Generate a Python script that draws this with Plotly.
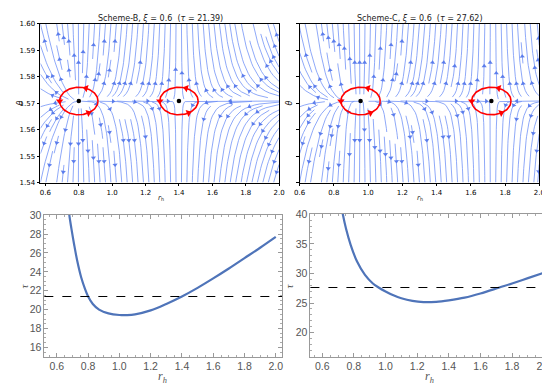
import math
import numpy as np
import plotly.graph_objects as go

W, H = 550, 385

# ---------------- data ----------------
xi_val = 0.6
tau0_B = 21.39
tau0_C = 27.62
rh_zero_B = [0.80, 1.40]
rh_zero_C = [0.956, 1.72]

rh_B = [0.56, 0.60, 0.63, 0.65, 0.665, 0.679, 0.693, 0.71, 0.73, 0.756, 0.78, 0.80,
        0.83, 0.87, 0.93, 1.00, 1.05, 1.10, 1.20, 1.30, 1.40, 1.50, 1.60, 1.70, 1.80, 1.90, 2.00]
tau_B = [58.0, 45.0, 38.0, 34.5, 32.3, 30.1, 28.6, 26.95, 25.2, 23.4, 22.2, 21.39,
         20.6, 20.0, 19.6, 19.43, 19.42, 19.5, 19.92, 20.6, 21.39, 22.3, 23.3, 24.35, 25.45, 26.55, 27.7]

rh_C = [0.60, 0.63, 0.67, 0.70, 0.72, 0.73, 0.75, 0.78, 0.82, 0.87, 0.92, 0.956, 1.00,
        1.05, 1.10, 1.17, 1.24, 1.32, 1.40, 1.50, 1.60, 1.72, 1.80, 1.90, 2.00]
tau_C = [68.0, 60.0, 51.0, 45.0, 41.5, 40.0, 37.6, 34.8, 32.0, 29.75, 28.3, 27.62, 26.95,
         26.3, 25.8, 25.35, 25.15, 25.2, 25.45, 25.9, 26.6, 27.62, 28.3, 29.2, 30.1]

x_ticks_top = [0.6, 0.8, 1.0, 1.2, 1.4, 1.6, 1.8, 2.0]
y_ticks_top = [1.54, 1.55, 1.56, 1.57, 1.58, 1.59, 1.60]

# ---------------- layout geometry (pixels) ----------------
panels = {
    "TL": dict(px=(27, 271), py=(10, 173), xr=(0.57, 2.0), yr=(1.54, 1.60)),
    "TR": dict(px=(292, 537), py=(10, 173), xr=(0.60, 2.0), yr=(1.54, 1.60)),
    "BL": dict(px=(31, 274), py=(206, 352), xr=(0.52, 2.04), yr=(15.0, 30.05)),
    "BR": dict(px=(303, 548), py=(205, 352), xr=(0.525, 2.04), yr=(15.9, 40.1)),
}


def dom(p):
    return [p["px"][0] / W, p["px"][1] / W], [1 - p["py"][1] / H, 1 - p["py"][0] / H]


def scales(p):
    sx = (p["px"][1] - p["px"][0]) / (p["xr"][1] - p["xr"][0])
    sy = (p["py"][1] - p["py"][0]) / (p["yr"][1] - p["yr"][0])
    return sx, sy


# ---------------- streamline integrator (matplotlib-style) ----------------
class _OOB(Exception):
    pass


class _Term(Exception):
    pass


class _Stop(Exception):
    pass


def streamlines(x, y, u, v, density=1.0, minlength=0.1, maxlength=4.0):
    ny_g, nx_g = u.shape
    width = x[-1] - x[0]
    height = y[-1] - y[0]
    dxg = width / (nx_g - 1)
    dyg = height / (ny_g - 1)
    mn = int(30 * density)
    mask = [[0] * mn for _ in range(mn)]
    xg2m = (mn - 1) / (nx_g - 1)
    yg2m = (mn - 1) / (ny_g - 1)
    ug_a = u / dxg
    vg_a = v / dyg
    sp_a = np.sqrt((ug_a / (nx_g - 1)) ** 2 + (vg_a / (ny_g - 1)) ** 2)
    UG, VG, SP = ug_a.tolist(), vg_a.tolist(), sp_a.tolist()
    XM, YM = nx_g - 1, ny_g - 1

    def interp(a, xi, yi):
        ix = int(xi)
        iy = int(yi)
        xn = ix if ix == XM else ix + 1
        yn = iy if iy == YM else iy + 1
        xt = xi - ix
        yt = yi - iy
        r0 = a[iy]
        r1 = a[yn]
        a0 = r0[ix] * (1 - xt) + r0[xn] * xt
        a1 = r1[ix] * (1 - xt) + r1[xn] * xt
        return a0 * (1 - yt) + a1 * yt

    def within(xi, yi):
        return 0 <= xi <= XM and 0 <= yi <= YM

    def f(xi, yi, sgn):
        if not within(xi, yi):
            raise _OOB
        s = interp(SP, xi, yi)
        if s == 0:
            raise _Term
        dt = 1.0 / s
        return sgn * interp(UG, xi, yi) * dt, sgn * interp(VG, xi, yi) * dt

    state = {"cur": None, "cells": []}

    def update(xg, yg):
        if not within(xg, yg):
            raise _Stop
        xm = int(xg * xg2m + 0.5)
        ym = int(yg * yg2m + 0.5)
        if state["cur"] != (xm, ym):
            if mask[ym][xm] == 0:
                state["cells"].append((ym, xm))
                mask[ym][xm] = 1
                state["cur"] = (xm, ym)
            else:
                raise _Stop

    def euler(traj, sgn):
        xi, yi = traj[-1]
        cx, cy = f(xi, yi, sgn)
        if cx == 0:
            dsx = math.inf
        elif cx < 0:
            dsx = xi / -cx
        else:
            dsx = (XM - xi) / cx
        if cy == 0:
            dsy = math.inf
        elif cy < 0:
            dsy = yi / -cy
        else:
            dsy = (YM - yi) / cy
        ds = min(dsx, dsy)
        traj.append((xi + cx * ds, yi + cy * ds))
        return ds

    def rk12(x0, y0, sgn):
        maxerror = 0.003
        maxds = min(1.0 / mn, 0.1)
        ds = maxds
        stotal = 0.0
        xi, yi = x0, y0
        traj = []
        while True:
            try:
                if within(xi, yi):
                    traj.append((xi, yi))
                else:
                    raise _OOB
                k1x, k1y = f(xi, yi, sgn)
                k2x, k2y = f(xi + ds * k1x, yi + ds * k1y, sgn)
            except _OOB:
                if traj:
                    try:
                        stotal += euler(traj, sgn)
                    except (_OOB, _Term):
                        pass
                break
            except _Term:
                break
            dx1 = ds * k1x
            dy1 = ds * k1y
            dx2 = ds * 0.5 * (k1x + k2x)
            dy2 = ds * 0.5 * (k1y + k2y)
            err = math.hypot((dx2 - dx1) / XM, (dy2 - dy1) / YM)
            if err < maxerror:
                xi += dx2
                yi += dy2
                try:
                    update(xi, yi)
                except _Stop:
                    break
                if stotal + ds > maxlength:
                    break
                stotal += ds
            if err == 0:
                ds = maxds
            else:
                ds = min(maxds, 0.85 * ds * (maxerror / err) ** 0.5)
        return stotal, traj

    def integrate(x0, y0):
        state["cells"] = []
        state["cur"] = None
        try:
            update(x0, y0)
        except _Stop:
            return None
        s1, tb = rk12(x0, y0, -1.0)
        state["cur"] = (int(x0 * xg2m + 0.5), int(y0 * yg2m + 0.5))
        s2, tf = rk12(x0, y0, 1.0)
        traj = tb[::-1] + tf[1:]
        if s1 + s2 > minlength:
            return traj
        for (ym, xm) in state["cells"]:
            mask[ym][xm] = 0
        return None

    def seeds():
        xfirst, yfirst, xlast, ylast = 0, 1, mn - 1, mn - 1
        xx, yy = 0, 0
        direction = "right"
        for _ in range(mn * mn):
            yield xx, yy
            if direction == "right":
                xx += 1
                if xx >= xlast:
                    xlast -= 1
                    direction = "up"
            elif direction == "up":
                yy += 1
                if yy >= ylast:
                    ylast -= 1
                    direction = "left"
            elif direction == "left":
                xx -= 1
                if xx <= xfirst:
                    xfirst += 1
                    direction = "down"
            else:
                yy -= 1
                if yy <= yfirst:
                    yfirst += 1
                    direction = "right"

    out = []
    for xm, ym in seeds():
        if mask[ym][xm] == 0:
            t = integrate(xm / xg2m, ym / yg2m)
            if t is not None and len(t) > 1:
                tx = [x[0] + p[0] * dxg for p in t]
                ty = [y[0] + p[1] * dyg for p in t]
                out.append((np.array(tx), np.array(ty)))
    return out


fig = go.Figure()

LINE_COL = "rgba(105,140,245,0.75)"
ARROW_COL = "rgba(85,120,235,0.95)"


def stream_panel(p, rh, tau, tau0, zeros, xa, ya):
    rg = np.linspace(p["xr"][0], p["xr"][1], 100)
    tg = np.linspace(p["yr"][0], p["yr"][1], 100)
    R, TH = np.meshgrid(rg, tg)
    T = np.interp(R, rh, tau)
    u = 2 * np.pi * R * (1.0 / T - 1.0 / tau0) / np.sin(TH)
    v = -np.cos(TH) / np.sin(TH) ** 2
    lines = streamlines(rg, tg, u, v, density=1.5)
    sx, sy = scales(p)
    lx, ly, ax, ay, ang = [], [], [], [], []
    for tx, ty in lines:
        lx.extend(tx.tolist() + [None])
        ly.extend(ty.tolist() + [None])
        s = np.cumsum(np.hypot(np.diff(tx), np.diff(ty)))
        n = int(np.searchsorted(s, s[-1] / 2.0))
        n = min(n, len(tx) - 2)
        dx = (tx[n + 1] - tx[n]) * sx
        dy = (ty[n + 1] - ty[n]) * sy
        if dx == 0 and dy == 0:
            continue
        ax.append(tx[n])
        ay.append(ty[n])
        ang.append(float(np.degrees(np.arctan2(dx, dy))))
    fig.add_trace(go.Scatter(x=lx, y=ly, mode="lines", xaxis=xa, yaxis=ya,
                             line=dict(color=LINE_COL, width=1), hoverinfo="skip",
                             showlegend=False, connectgaps=False))
    fig.add_trace(go.Scatter(x=ax, y=ay, mode="markers", xaxis=xa, yaxis=ya,
                             marker=dict(symbol="triangle-up", size=4.5, angle=ang,
                                         color=ARROW_COL, line=dict(width=0)),
                             hoverinfo="skip", showlegend=False))
    # red loops around the zero points
    a, b_ = 0.115, 0.0052
    t = np.linspace(0, 2 * np.pi, 120)
    for z in zeros:
        fig.add_trace(go.Scatter(x=z + a * np.cos(t), y=np.pi / 2 + b_ * np.sin(t),
                                 mode="lines", xaxis=xa, yaxis=ya,
                                 line=dict(color="#ff0000", width=1.6),
                                 hoverinfo="skip", showlegend=False))
        tt = np.radians([68, 180, 300])
        angs = [float(np.degrees(np.arctan2(-a * np.sin(q) * sx, b_ * np.cos(q) * sy))) for q in tt]
        fig.add_trace(go.Scatter(x=z + a * np.cos(tt), y=np.pi / 2 + b_ * np.sin(tt),
                                 mode="markers", xaxis=xa, yaxis=ya,
                                 marker=dict(symbol="triangle-up", size=6.5, angle=angs,
                                             color="#ff0000", line=dict(width=0)),
                                 hoverinfo="skip", showlegend=False))
    fig.add_trace(go.Scatter(x=zeros, y=[np.pi / 2] * len(zeros), mode="markers",
                             xaxis=xa, yaxis=ya,
                             marker=dict(size=4.5, color="black"),
                             hoverinfo="skip", showlegend=False))


stream_panel(panels["TL"], rh_B, tau_B, tau0_B, rh_zero_B, "x", "y")
stream_panel(panels["TR"], rh_C, tau_C, tau0_C, rh_zero_C, "x2", "y2")

CURVE_COL = "#4f74b9"
fig.add_trace(go.Scatter(x=rh_B, y=tau_B, mode="lines", xaxis="x3", yaxis="y3",
                         line=dict(color=CURVE_COL, width=2.2, shape="spline"),
                         hoverinfo="skip", showlegend=False))
fig.add_trace(go.Scatter(x=rh_C, y=tau_C, mode="lines", xaxis="x4", yaxis="y4",
                         line=dict(color=CURVE_COL, width=2.2, shape="spline"),
                         hoverinfo="skip", showlegend=False))

shapes = []
for xa_, ya_, t0 in [("x3", "y3", tau0_B), ("x4", "y4", tau0_C)]:
    shapes.append(dict(type="line", xref=xa_ + " domain", yref=ya_, x0=0, x1=1, y0=t0, y1=t0,
                       line=dict(color="black", width=1.2, dash="dash")))

top_font = dict(family="DejaVu Sans", size=7, color="black")
bot_font = dict(family="Liberation Sans", size=10.5, color="#555555")


def top_axes(p, showylabels):
    xd, yd = dom(p)
    xa = dict(domain=xd, range=list(p["xr"]), tickvals=x_ticks_top,
              ticktext=[f"{v:.1f}" for v in x_ticks_top], ticks="outside", ticklen=3,
              tickwidth=0.8, tickcolor="black", showline=True, linecolor="black",
              linewidth=0.8, mirror=True, showgrid=False, zeroline=False,
              tickfont=top_font)
    ya = dict(domain=yd, range=list(p["yr"]), tickvals=y_ticks_top,
              ticktext=[f"{v:.2f}" for v in y_ticks_top],
              showticklabels=showylabels,
              ticks="outside", ticklen=3, tickwidth=0.8, tickcolor="black", showline=True,
              linecolor="black", linewidth=0.8, mirror=True, showgrid=False,
              zeroline=False, tickfont=top_font)
    return xa, ya


def bot_axes(p, ydtick, yminor):
    xd, yd = dom(p)
    common = dict(ticks="inside", ticklen=4, tickwidth=0.8, tickcolor="#999999",
                  showline=True, linecolor="#999999", linewidth=0.8, mirror="ticks",
                  showgrid=False, zeroline=False, tickfont=bot_font)
    xa = dict(domain=xd, range=list(p["xr"]), tick0=0.6, dtick=0.2, tickformat=".1f",
              minor=dict(dtick=0.05, ticks="inside", ticklen=2, tickcolor="#aaaaaa"),
              **common)
    ya = dict(domain=yd, range=list(p["yr"]), tick0=0, dtick=ydtick,
              minor=dict(dtick=yminor, ticks="inside", ticklen=2, tickcolor="#aaaaaa"),
              **common)
    return xa, ya


x1, y1 = top_axes(panels["TL"], True)
x2, y2 = top_axes(panels["TR"], False)
x3, y3 = bot_axes(panels["BL"], 2, 0.5)
x4, y4 = bot_axes(panels["BR"], 5, 1)
x2["anchor"] = "y2"; y2["anchor"] = "x2"
x3["anchor"] = "y3"; y3["anchor"] = "x3"
x4["anchor"] = "y4"; y4["anchor"] = "x4"


def ann(px, py, text, size, color, family, angle=0):
    return dict(x=px / W, y=1 - py / H, xref="paper", yref="paper", text=text,
                showarrow=False, textangle=angle, xanchor="center", yanchor="middle",
                font=dict(size=size, color=color, family=family))


annotations = [
    ann(150, 5, f"Scheme-B, <i>ξ</i> = {xi_val}  (<i>τ</i> = {tau0_B})", 8, "#222222", "DejaVu Sans"),
    ann(415, 5, f"Scheme-C, <i>ξ</i> = {xi_val}  (<i>τ</i> = {tau0_C})", 8, "#222222", "DejaVu Sans"),
    ann(150, 189, "<i>r</i><sub>h</sub>", 7, "#222222", "DejaVu Sans"),
    ann(415, 189, "<i>r</i><sub>h</sub>", 7, "#222222", "DejaVu Sans"),
    ann(7, 91, "<i>θ</i>", 8, "#222222", "DejaVu Sans", -90),
    ann(282, 91, "<i>θ</i>", 8, "#222222", "DejaVu Sans", -90),
    ann(152, 373, "<i>r<sub>h</sub></i>", 12, "#555555", "Liberation Serif"),
    ann(425, 373, "<i>r<sub>h</sub></i>", 12, "#555555", "Liberation Serif"),
    ann(10, 279, "<i>τ</i>", 11, "#555555", "Liberation Serif", -90),
    ann(281, 279, "<i>τ</i>", 11, "#555555", "Liberation Serif", -90),
]

fig.update_layout(width=W, height=H, margin=dict(l=0, r=0, t=0, b=0),
                  paper_bgcolor="white", plot_bgcolor="white",
                  xaxis=x1, yaxis=y1, xaxis2=x2, yaxis2=y2,
                  xaxis3=x3, yaxis3=y3, xaxis4=x4, yaxis4=y4,
                  shapes=shapes, annotations=annotations, showlegend=False)

fig.write_html("out.html")
